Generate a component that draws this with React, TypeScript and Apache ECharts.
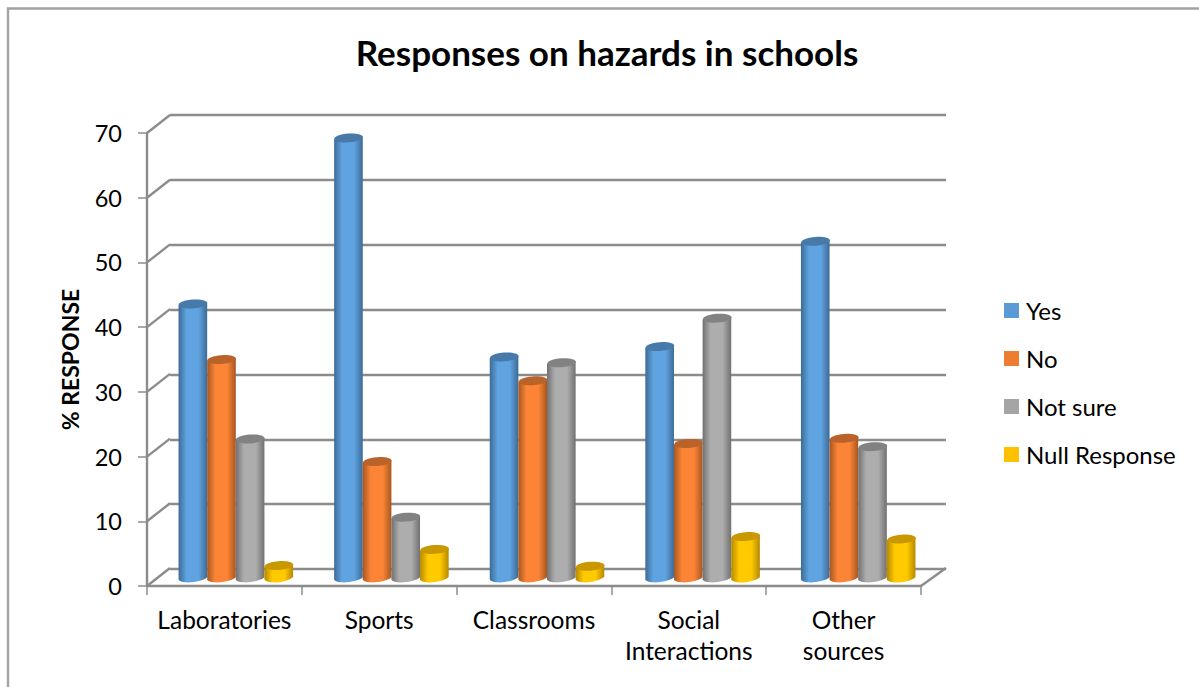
import React, { useEffect, useRef } from "react";
import * as echarts from "echarts";

const categories = ["Laboratories", "Sports", "Classrooms", "Social\nInteractions", "Other\nsources"];
const yesValues = [42.3, 68, 34.1, 35.7, 52];
const noValues = [33.7, 17.9, 30.4, 20.7, 21.5];
const notSureValues = [21.4, 9.3, 33.2, 40.1, 20.2];
const nullValues = [1.8, 4.3, 1.7, 6.3, 5.9];
const yTicks = [0, 10, 20, 30, 40, 50, 60, 70];

const FONT = "Lato";
const GRID_LINE = "#8c8c8c";
const DEPTH_X = 23;
const DEPTH_Y = -18;
const BAR_FRACTION = 0.184;
const TILT = 1.1;
const RX_FACTOR = 0.5;
const RY = 4.4;

const shades = [
  { name: "Yes", values: yesValues, swatch: "#5b9bd5", edge: "#3d6b96", mid: "#5fa3e0", top: "#477aa8" },
  { name: "No", values: noValues, swatch: "#ed7d31", edge: "#a85720", mid: "#fb8436", top: "#b9632a" },
  { name: "Not sure", values: notSureValues, swatch: "#a5a5a5", edge: "#717171", mid: "#adadad", top: "#828282" },
  { name: "Null Response", values: nullValues, swatch: "#ffc000", edge: "#b78900", mid: "#ffca00", top: "#c99700" },
];

function cylinderRenderer(seriesIndex: number, shade: (typeof shades)[number]) {
  return (_params: any, api: any) => {
    const c = api.value(0);
    const v = api.value(1);
    const [cx, yTop] = api.coord([c, v]);
    const [, yBase] = api.coord([c, 0]);
    const band = api.size([1, 0])[0];
    const w = band * BAR_FRACTION;
    const x0 = cx + (seriesIndex - 2) * w;
    const x1 = x0 + w;
    const mid = (x0 + x1) / 2;
    const rx = w * RX_FACTOR;
    const body =
      `M ${x0} ${yTop + TILT} L ${x0} ${yBase + TILT} ` +
      `C ${x0 + 2} ${yBase + RY + 1.5} ${x1 - 6} ${yBase + RY} ${x1} ${yBase - TILT} ` +
      `L ${x1} ${yTop - TILT} Z`;
    const gradient = {
      type: "linear",
      x: 0,
      y: 0,
      x2: 1,
      y2: 0,
      colorStops: [
        { offset: 0, color: shade.edge },
        { offset: 0.28, color: shade.mid },
        { offset: 0.7, color: shade.mid },
        { offset: 1, color: shade.edge },
      ],
    };
    return {
      type: "group",
      x: 0,
      y: 0,
      children: [
        { type: "path", shape: { pathData: body, layout: "cover", x: x0, y: yTop - TILT, width: w, height: yBase + RY + 1 - (yTop - TILT) }, style: { fill: gradient } },
        { type: "ellipse", shape: { cx: mid, cy: yTop, rx, ry: RY }, rotation: 0.07, originX: mid, originY: yTop, style: { fill: shade.top } },
      ],
    };
  };
}

// Side wall and floor edges that give the plot its box shape.
function renderDepthLine(_params: any, api: any) {
  const v = api.value(0);
  const band = api.size([1, 0])[0];
  const left = api.coord([0, v])[0] - band / 2;
  const y = api.coord([0, v])[1];
  const lineStyle = { stroke: GRID_LINE, lineWidth: 2.4 };
  const children: any[] = [
    { type: "line", shape: { x1: left, y1: y, x2: left + DEPTH_X, y2: y + DEPTH_Y }, style: lineStyle },
  ];
  if (v === 0) {
    const right = api.coord([categories.length - 1, v])[0] + band / 2;
    children.push({ type: "line", shape: { x1: right, y1: y, x2: right + DEPTH_X + 2, y2: y + DEPTH_Y }, style: lineStyle });
  }
  return { type: "group", children };
}

export default function App() {
  const ref = useRef<HTMLDivElement>(null);

  useEffect(() => {
    const chart = echarts.init(ref.current!, undefined, { renderer: "svg" });
    chart.setOption({
      animation: false,
      backgroundColor: "#ffffff",
      title: {
        text: "Responses on hazards in schools",
        left: 602,
        top: 29,
        textAlign: "center",
        textStyle: { fontFamily: FONT, fontSize: 35, fontWeight: "bold", color: "#000000" },
      },
      legend: {
        orient: "vertical",
        left: 1004,
        top: 298.5,
        padding: 0,
        itemWidth: 15,
        itemHeight: 15,
        itemGap: 24,
        icon: "rect",
        data: shades.map((s) => s.name),
        textStyle: { fontFamily: FONT, fontSize: 24, color: "#000000", padding: [0, 0, 0, 2] },
      },
      grid: [
        { left: 147, top: 133, width: 774, height: 453 },
        { left: 158, top: 125, width: 778, height: 452 },
        { left: 170, top: 115, width: 776, height: 454 },
      ],
      xAxis: [
        {
          type: "category",
          gridIndex: 0,
          data: categories,
          axisLine: { lineStyle: { color: GRID_LINE, width: 2.4 } },
          axisTick: { show: true, length: 9, alignWithLabel: false, lineStyle: { color: GRID_LINE, width: 1.5 } },
          axisLabel: { fontFamily: FONT, fontSize: 24.5, color: "#000000", margin: 18, lineHeight: 31, interval: 0 },
        },
        { type: "category", gridIndex: 1, data: categories, show: false },
        { type: "category", gridIndex: 2, data: categories, show: false },
      ],
      yAxis: [
        {
          type: "value",
          gridIndex: 0,
          min: 0,
          max: 70,
          interval: 10,
          name: "% RESPONSE",
          nameLocation: "middle",
          nameGap: 66,
          nameRotate: 90,
          nameTextStyle: { fontFamily: FONT, fontSize: 23, fontWeight: "bold", color: "#000000" },
          axisLine: { show: true, lineStyle: { color: GRID_LINE, width: 2.4 } },
          axisTick: { show: true, length: 9, lineStyle: { color: GRID_LINE, width: 1.5 } },
          axisLabel: { fontFamily: FONT, fontSize: 23.5, color: "#000000", margin: 25 },
          splitLine: { show: false },
        },
        { type: "value", gridIndex: 1, min: 0, max: 70, interval: 10, show: false, splitLine: { show: false } },
        {
          type: "value",
          gridIndex: 2,
          min: 0,
          max: 70,
          interval: 10,
          axisLine: { show: false },
          axisTick: { show: false },
          axisLabel: { show: false },
          splitLine: { show: true, lineStyle: { color: GRID_LINE, width: 2.4 } },
        },
      ],
      series: [
        {
          type: "custom",
          xAxisIndex: 0,
          yAxisIndex: 0,
          silent: true,
          z: 1,
          data: yTicks.map((v) => [v]),
          encode: { y: 0 },
          renderItem: renderDepthLine,
        },
        ...shades.map((shade, i) => ({
          type: "custom",
          name: shade.name,
          xAxisIndex: 1,
          yAxisIndex: 1,
          z: 3,
          itemStyle: { color: shade.swatch },
          data: shade.values.map((v, c) => [c, v]),
          encode: { x: 0, y: 1 },
          renderItem: cylinderRenderer(i, shade),
        })),
      ],
      graphic: [
        {
          type: "polyline",
          silent: true,
          shape: { points: [[8, 700], [8, 8.5], [1210, 8.5]] },
          style: { stroke: "#a3a3a3", lineWidth: 2.4, fill: "none" },
        },
      ],
    });
    return () => chart.dispose();
  }, []);

  return <div ref={ref} style={{ position: "fixed", left: 0, top: 0, width: 1199, height: 687 }} />;
}
